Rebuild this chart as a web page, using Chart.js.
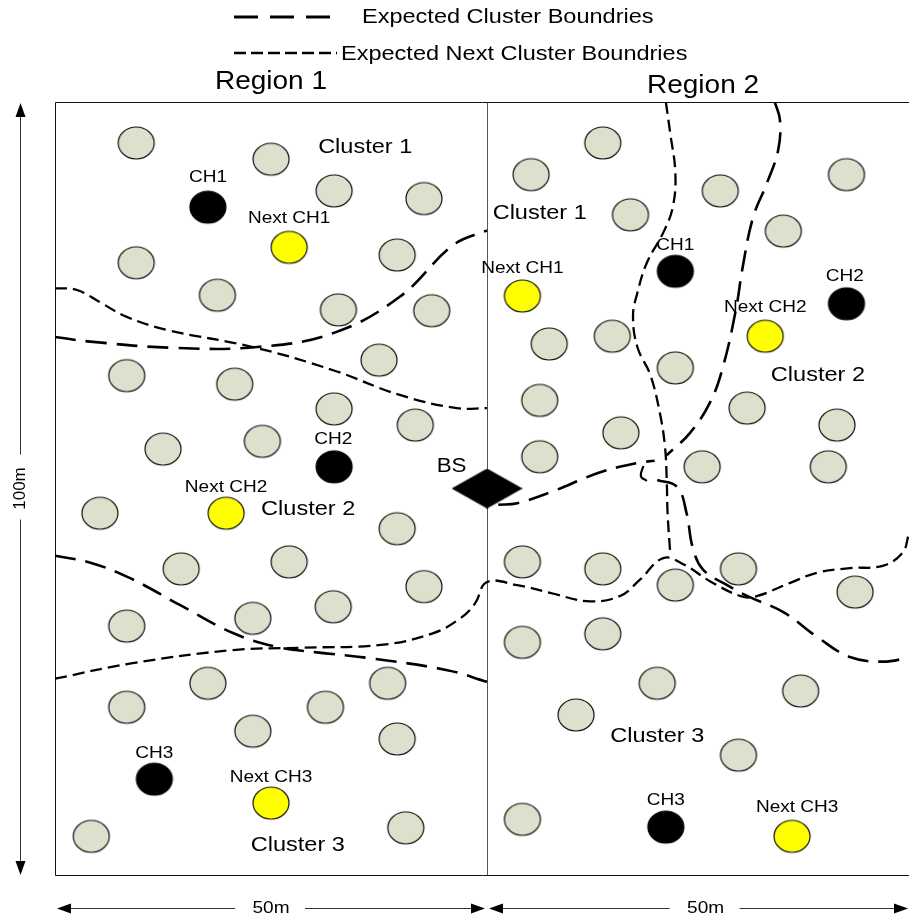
<!DOCTYPE html>
<html>
<head>
<meta charset="utf-8">
<script src="https://cdn.jsdelivr.net/npm/chart.js@4.4.0/dist/chart.umd.min.js"></script>
<style>
  body { margin: 0; background: #fff; }
</style>
</head>
<body>
<canvas id="field" width="909" height="922"></canvas>
<script>
// positions in metres: x from the left edge of the field, y up from the bottom edge
var sensorX = [9.4, 25.0, 32.3, 42.7, 9.4, 39.6, 18.8, 32.8, 43.6, 37.5, 8.3, 20.8, 32.3, 41.7, 12.5, 24.0,
               5.2, 39.6, 14.6, 27.1, 42.7, 32.2, 8.3, 22.9, 17.7, 38.5, 8.3, 31.3, 22.9, 39.6, 4.2, 40.6,
               63.4, 55.1, 66.6, 77.0, 91.6, 84.3, 57.2, 64.5, 71.8, 56.1, 80.1, 90.5, 65.5, 56.1, 74.9, 89.5,
               54.1, 63.4, 71.8, 79.1, 92.6, 54.1, 63.4, 69.7, 86.3, 60.3, 79.1, 54.1];
var sensorY = [94.7, 92.6, 88.5, 87.5, 79.2, 80.2, 75.0, 73.1, 73.0, 66.6, 64.6, 63.5, 60.3, 58.2, 55.1, 56.1,
               46.8, 44.8, 39.6, 40.5, 37.3, 34.7, 32.2, 33.2, 24.8, 24.8, 21.7, 21.7, 18.6, 17.6, 5.0, 6.1,
               94.7, 90.6, 85.4, 88.5, 90.6, 83.3, 68.7, 69.7, 65.6, 61.4, 60.4, 58.2, 57.2, 54.1, 52.8, 52.8,
               40.5, 39.6, 37.5, 39.6, 36.6, 30.1, 31.2, 24.8, 23.8, 20.7, 15.5, 7.2];
var headX = [17.7, 32.3, 11.5, 71.8, 91.6, 70.7];
var headY = [86.4, 52.8, 12.4, 78.1, 73.9, 6.2];
var nextHeadX = [27.1, 19.8, 25.0, 54.1, 82.2, 85.3];
var nextHeadY = [81.2, 46.8, 9.3, 74.9, 69.7, 5.0];
var baseX = [50];
var baseY = [50];

// expected cluster boundaries (long dashes)
var clusterLine1 = [[0, 69.6], [4.1, 69.0], [13.7, 68.2], [23.4, 68.3], [32.2, 70.1], [39.9, 74.8], [46.1, 81.5], [50, 83.4]];
var clusterLine2 = [[0, 41.3], [4.1, 40.4], [8.7, 38.4], [14.5, 34.9], [20.6, 31.3], [25.7, 29.5], [30.3, 28.8], [36.1, 28.1], [45.4, 26.5], [50, 25.0]];
var clusterLine3 = [[83.3, 100], [83.9, 97.7], [83.7, 93.8], [82.4, 89.5], [80.8, 85.1], [79.6, 78.7], [78.8, 73.1], [77.3, 65.7], [75.8, 61.1], [73.5, 57.2], [70.8, 54.3]];
var clusterLine4 = [[51.3, 47.9], [53.5, 48.1], [57.3, 49.5], [63.1, 52.1], [67.4, 53.3], [69.4, 53.6]];
var clusterHook = [[68.1, 52.9], [67.8, 51.6], [68.5, 51.0]];
var clusterLine5 = [[69.7, 51.1], [72.0, 50.2], [73.1, 46.8], [73.8, 42.4], [75.0, 39.5], [77.8, 37.5], [80.1, 36.1], [84.3, 34.0], [88.2, 30.8], [92.0, 28.2], [95.8, 27.6], [98.8, 28.1]];

// expected next cluster boundaries (short dashes)
var nextLine1 = [[0, 75.9], [2.5, 75.7], [5.2, 74.1], [8.3, 72.2], [13.0, 70.5], [22.9, 68.3], [32.2, 65.3], [39.9, 62.1], [46.5, 60.4], [50, 60.4]];
var nextLine2 = [[0, 25.4], [9.0, 27.4], [20.6, 29.1], [28.4, 29.4], [38.0, 29.8], [43.8, 31.3], [46.9, 33.2], [48.6, 35.1], [50, 37.9],
                 [53.5, 37.5], [57.3, 36.5], [61.9, 35.4], [65.4, 36.1], [67.7, 38.2], [70.4, 41.0], [72.9, 40.1], [75.8, 38.0],
                 [79.6, 36.0], [81.3, 36.1], [85.1, 37.8], [88.2, 39.1], [92.0, 39.7], [95.8, 40.0], [98.1, 41.7], [98.8, 44.0]];
var nextLine3 = [[70.7, 100], [71.2, 96.0], [71.8, 90.8], [71.5, 86.4], [70.4, 83.1], [68.5, 79.2], [67.4, 75.3], [66.9, 72.3],
                 [67.4, 68.3], [68.9, 64.7], [70.0, 59.8], [70.6, 55.4], [70.8, 51.1], [70.9, 46.8], [71.2, 41.7]];

var labelText = ['Cluster 1', 'Cluster 2', 'Cluster 3', 'Cluster 1', 'Cluster 2', 'Cluster 3',
                 'CH1', 'Next CH1', 'CH2', 'Next CH2', 'CH3', 'Next CH3',
                 'CH1', 'Next CH1', 'CH2', 'Next CH2', 'CH3', 'Next CH3', 'BS'];
var labelX = [35.9, 29.3, 28.1, 56.1, 88.3, 69.7, 17.7, 27.1, 32.2, 19.8, 11.5, 25.0, 71.8, 54.1, 91.4, 82.2, 70.7, 85.9, 45.9];
var labelY = [94.2, 47.3, 3.8, 85.6, 64.6, 17.9, 90.2, 85.0, 56.3, 50.2, 15.8, 12.7, 81.5, 78.5, 77.4, 73.4, 9.7, 8.7, 52.8];
var regionText = ['Region 1', 'Region 2'];
var regionX = [25, 75];
var legendText = ['Expected Cluster Boundries', 'Expected Next Cluster Boundries'];

var FONT = '"Liberation Sans", Arial, sans-serif';
var STRETCH = 1.12; // the original figure is a bit wider than tall

function nodeImage(w, h, fill, stroke) {
    var c = document.createElement('canvas');
    c.width = w + 4;
    c.height = h + 4;
    var g = c.getContext('2d');
    g.beginPath();
    g.ellipse(c.width / 2, c.height / 2, w / 2, h / 2, 0, 0, Math.PI * 2);
    g.fillStyle = fill;
    g.fill();
    g.lineWidth = 1.2;
    g.strokeStyle = stroke;
    g.stroke();
    return c;
}
function diamondImage(w, h) {
    var c = document.createElement('canvas');
    c.width = w;
    c.height = h;
    var g = c.getContext('2d');
    g.beginPath();
    g.moveTo(w / 2, 0);
    g.lineTo(w, h / 2);
    g.lineTo(w / 2, h);
    g.lineTo(0, h / 2);
    g.closePath();
    g.fillStyle = '#000';
    g.fill();
    return c;
}
function toPoints(xs, ys) {
    return xs.map(function (x, i) { return { x: x, y: ys[i] }; });
}
function pairs(list) {
    return list.map(function (p) { return { x: p[0], y: p[1] }; });
}
function nodes(label, xs, ys, img) {
    return { label: label, data: toPoints(xs, ys), pointStyle: img, pointRadius: 18, showLine: false, clip: false };
}
function boundary(label, list, dash, width) {
    return {
        label: label, data: pairs(list), showLine: true, pointRadius: 0,
        borderColor: '#000', borderWidth: width, borderDash: dash, tension: 0.4, fill: false
    };
}

var LONG = [21, 10];
var SHORT = [12, 6];

function stretchedText(ctx, text, x, y, size) {
    ctx.save();
    ctx.font = size + 'px ' + FONT;
    ctx.translate(x, y);
    ctx.scale(STRETCH, 1);
    ctx.fillText(text, 0, 0);
    ctx.restore();
}
function arrowHead(ctx, x, y, dx, dy) {
    // tip at x,y pointing along dx,dy
    var len = 14, half = 5;
    ctx.beginPath();
    ctx.moveTo(x, y);
    ctx.lineTo(x - dx * len - dy * half, y - dy * len - dx * half);
    ctx.lineTo(x - dx * len + dy * half, y - dy * len + dx * half);
    ctx.closePath();
    ctx.fill();
}

// FIELD FRAME, DIMENSIONS AND LEGEND
var framePlugin = {
    id: 'frame',
    beforeDatasetsDraw: function (chart) {
        var ctx = chart.ctx, a = chart.chartArea, xs = chart.scales.x;
        var l = Math.round(a.left) + 0.5, t = Math.round(a.top) + 0.5, b = Math.round(a.bottom) + 0.5;
        var mid = Math.round(xs.getPixelForValue(50)) + 0.5;
        ctx.save();
        ctx.lineWidth = 1;
        ctx.strokeStyle = '#111';
        ctx.beginPath();
        ctx.moveTo(a.right, t); ctx.lineTo(l, t); ctx.lineTo(l, b); ctx.lineTo(a.right, b);
        ctx.stroke();
        ctx.strokeStyle = '#555';
        ctx.beginPath();
        ctx.moveTo(mid, t); ctx.lineTo(mid, b);
        ctx.stroke();
        ctx.restore();
    },
    afterDraw: function (chart) {
        var ctx = chart.ctx, a = chart.chartArea, xs = chart.scales.x, ys = chart.scales.y;
        ctx.save();
        ctx.fillStyle = '#000';
        ctx.strokeStyle = '#000';
        ctx.textAlign = 'center';
        ctx.textBaseline = 'middle';

        // labels inside the field
        labelText.forEach(function (txt, i) {
            var size = txt.indexOf('Cluster') === 0 ? 21 : (txt === 'BS' ? 20 : 17);
            stretchedText(ctx, txt, xs.getPixelForValue(labelX[i]), ys.getPixelForValue(labelY[i]), size);
        });
        regionText.forEach(function (txt, i) {
            stretchedText(ctx, txt, xs.getPixelForValue(regionX[i]), a.top - (i === 0 ? 20 : 16), 25);
        });

        // legend
        var lx = 234;
        ctx.lineWidth = 3;
        ctx.setLineDash([24, 12]);
        ctx.beginPath(); ctx.moveTo(lx, 17); ctx.lineTo(lx + 96, 17); ctx.stroke();
        ctx.lineWidth = 2.5;
        ctx.setLineDash([12, 5]);
        ctx.beginPath(); ctx.moveTo(lx, 53); ctx.lineTo(lx + 103, 53); ctx.stroke();
        ctx.setLineDash([]);
        ctx.textAlign = 'left';
        ctx.save(); ctx.font = '21px ' + FONT; ctx.translate(362, 17); ctx.scale(STRETCH, 1); ctx.fillText(legendText[0], 0, 0); ctx.restore();
        ctx.save(); ctx.font = '21px ' + FONT; ctx.translate(341, 54); ctx.scale(STRETCH, 1); ctx.fillText(legendText[1], 0, 0); ctx.restore();
        ctx.textAlign = 'center';

        // vertical dimension 100m
        var vx = 20.5, top = a.top + 1, bot = a.bottom;
        var vmid = ys.getPixelForValue(50);
        ctx.lineWidth = 1;
        ctx.strokeStyle = '#333';
        ctx.beginPath();
        ctx.moveTo(vx, top + 10); ctx.lineTo(vx, vmid - 34);
        ctx.moveTo(vx, vmid + 31); ctx.lineTo(vx, bot - 10);
        ctx.stroke();
        arrowHead(ctx, vx, top, 0, -1);
        arrowHead(ctx, vx, bot, 0, 1);
        ctx.save();
        ctx.translate(vx, vmid);
        ctx.rotate(-Math.PI / 2);
        ctx.font = '17px ' + FONT;
        ctx.fillText('100m', 0, 0);
        ctx.restore();

        // horizontal dimensions 50m + 50m
        var hy = 908.5;
        var x0 = a.left + 2, x1 = xs.getPixelForValue(50), x2 = a.right - 1;
        [[x0, x1 - 2, 25], [x1 + 2, x2, 75.3]].forEach(function (seg) {
            var c = xs.getPixelForValue(seg[2]);
            ctx.beginPath();
            ctx.moveTo(seg[0] + 10, hy); ctx.lineTo(c - 36, hy);
            ctx.moveTo(c + 34, hy); ctx.lineTo(seg[1] - 10, hy);
            ctx.stroke();
            arrowHead(ctx, seg[0], hy, -1, 0);
            arrowHead(ctx, seg[1], hy, 1, 0);
            stretchedText(ctx, '50m', c, hy, 17);
        });
        ctx.restore();
    }
};

var grey = nodeImage(36, 32, '#dde0cc', '#111');
var black = nodeImage(36, 32, '#000', '#000');
var yellow = nodeImage(36, 32, '#ffff00', '#111');

new Chart(document.getElementById('field'), {
    type: 'scatter',
    data: {
        datasets: [
            { label: 'BS', data: toPoints(baseX, baseY), pointStyle: diamondImage(71, 40), pointRadius: 20, showLine: false },
            nodes('Cluster head', headX, headY, black),
            nodes('Next cluster head', nextHeadX, nextHeadY, yellow),
            nodes('Sensor', sensorX, sensorY, grey),
            boundary('Cluster boundary', clusterLine1, LONG, 2.6),
            boundary('Cluster boundary', clusterLine2, LONG, 2.6),
            boundary('Cluster boundary', clusterLine3, LONG, 2.6),
            boundary('Cluster boundary', clusterLine4, LONG, 2.6),
            boundary('Cluster boundary', clusterHook, [], 2.2),
            boundary('Cluster boundary', clusterLine5, LONG, 2.6),
            boundary('Next cluster boundary', nextLine1, SHORT, 2.3),
            boundary('Next cluster boundary', nextLine2, SHORT, 2.3),
            boundary('Next cluster boundary', nextLine3, SHORT, 2.3)
        ]
    },
    options: {
        responsive: false,
        animation: false,
        events: [],
        layout: { autoPadding: false, padding: { left: 55, right: 0, top: 102, bottom: 47 } },
        scales: {
            x: { type: 'linear', min: 0, max: 98.84, display: false },
            y: { type: 'linear', min: 0, max: 100, display: false }
        },
        plugins: {
            legend: { display: false },
            tooltip: { enabled: false }
        }
    },
    plugins: [framePlugin]
});
</script>
</body>
</html>
